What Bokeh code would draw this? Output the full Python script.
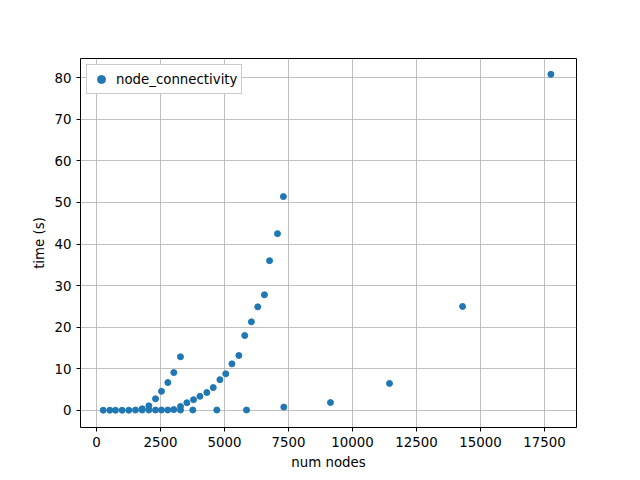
from bokeh.plotting import figure
from bokeh.models import Range1d, SingleIntervalTicker, Legend, LegendItem
from bokeh.embed import file_html
from bokeh.resources import INLINE

num_nodes = [262, 520, 742, 1003, 1262, 1523, 1785, 2045, 2305, 2539, 2786, 3020,
             3281, 3762, 4700, 5860, 7317,
             1785, 2045, 2305, 2539, 2786, 3020, 3281,
             3281, 3530, 3790, 4040, 4310, 4560, 4820, 5050, 5290, 5560, 5790,
             6050, 6300, 6560, 6760, 7070, 7300,
             9140, 11445, 14300, 17750]
time_s = [0.05, 0.05, 0.05, 0.05, 0.05, 0.1, 0.1, 0.1, 0.1, 0.1, 0.1, 0.2,
          0.1, 0.1, 0.1, 0.1, 0.8,
          0.4, 1.1, 2.8, 4.6, 6.7, 9.1, 12.9,
          0.96, 1.85, 2.6, 3.4, 4.3, 5.5, 7.4, 8.8, 11.2, 13.2, 18.0,
          21.3, 24.9, 27.8, 36.0, 42.5, 51.4,
          1.9, 6.5, 25.0, 80.8]

p = figure(width=632, height=472, output_backend="svg", toolbar_location=None,
           x_range=Range1d(-625, 18750), y_range=Range1d(-4.1, 84.6),
           min_border_left=80, min_border_right=56, min_border_top=58,
           min_border_bottom=45)
p.background_fill_color = "white"
p.outline_line_color = "black"
p.xaxis.ticker = SingleIntervalTicker(interval=2500)
p.yaxis.ticker = SingleIntervalTicker(interval=10)
p.xaxis.axis_label = "num nodes"
p.yaxis.axis_label = "time (s)"
for ax in (p.xaxis[0], p.yaxis[0]):
    ax.axis_label_text_font = "DejaVu Sans"
    ax.axis_label_text_font_style = "normal"
    ax.axis_label_text_font_size = "10pt"
    ax.axis_label_text_color = "black"
    ax.major_label_text_font = "DejaVu Sans"
    ax.major_label_text_font_size = "10pt"
    ax.major_label_text_color = "black"
    ax.minor_tick_line_color = None
    ax.major_tick_line_color = "black"
    ax.major_tick_in = 0
    ax.major_tick_out = 4
    ax.axis_line_color = None
p.grid.grid_line_color = "#b0b0b0"
p.grid.grid_line_width = 0.8

r = p.scatter(num_nodes, time_s, size=6, color="#1f77b4")
legend = Legend(items=[LegendItem(label="node_connectivity", renderers=[r])],
                location="top_left", label_text_font="DejaVu Sans",
                label_text_font_size="10pt", label_text_color="black",
                border_line_color="#cccccc",
                border_line_alpha=1, margin=6, padding=4, glyph_width=20)
p.add_layout(legend)

open("out.html", "w").write(file_html(p, INLINE))
